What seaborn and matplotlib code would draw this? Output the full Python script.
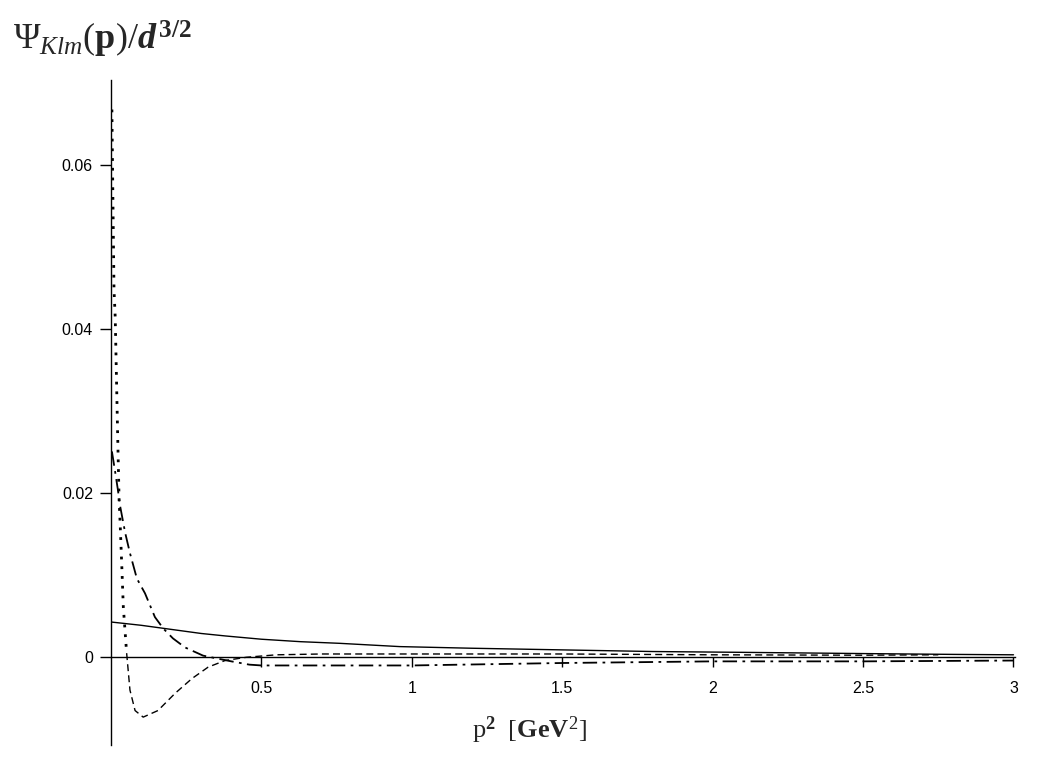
import numpy as np
import pandas as pd
import matplotlib
matplotlib.use('Agg')
import matplotlib.pyplot as plt
import seaborn as sns

# valores (p^2 en GeV^2, Psi/d^(3/2))
p2_solid = [0.0, 0.1, 0.2, 0.3, 0.38, 0.5, 0.63, 0.76, 0.96, 1.2, 1.5, 1.8, 2.1, 2.5, 2.8, 3.0]
psi_solid = [0.0043, 0.0039, 0.0034, 0.0029, 0.0026, 0.0022, 0.0019, 0.0017, 0.0013,
             0.0011, 0.0009, 0.0007, 0.0006, 0.00045, 0.00035, 0.0003]

p2_dashdot = [0.003, 0.013, 0.023, 0.030, 0.047, 0.063, 0.086, 0.113, 0.146, 0.174, 0.206,
              0.246, 0.306, 0.346, 0.40, 0.46, 0.5, 1.0, 1.5, 2.0, 2.5, 3.0]
psi_dashdot = [0.0251, 0.0228, 0.0204, 0.0185, 0.0152, 0.0127, 0.0096, 0.0078, 0.0049, 0.0035,
               0.0023, 0.0012, 0.0002, -0.0001, -0.0005, -0.0009, -0.0010, -0.0010, -0.0007,
               -0.0005, -0.0005, -0.0004]

p2_dot = [0.003, 0.006, 0.010, 0.014, 0.022, 0.027, 0.030, 0.036, 0.041, 0.052, 0.063, 0.080,
          0.107, 0.156, 0.213, 0.269, 0.323, 0.379, 0.45, 0.55, 0.7, 1.0, 1.5, 2.0, 2.5, 2.75]
psi_dot = [0.0668, 0.0570, 0.0448, 0.0415, 0.0273, 0.0191, 0.0167, 0.0110, 0.0061, 0.0005,
           -0.0040, -0.0065, -0.0073, -0.0065, -0.0044, -0.0026, -0.0012, -0.0004, 0.0000,
           0.0003, 0.0004, 0.0004, 0.0004, 0.0003, 0.00025, 0.0003]
n_punteado = 10  # primeros puntos con trazo punteado, el resto discontinuo

x_ticks = [0.5, 1, 1.5, 2, 2.5, 3]
x_ticklabels = ['0.5', '1', '1.5', '2', '2.5', '3']
y_ticks = [0, 0.02, 0.04, 0.06]
y_ticklabels = ['0', '0.02', '0.04', '0.06']

sns.set_style('white')
plt.rcParams['font.family'] = ['Liberation Sans', 'DejaVu Sans']
plt.rcParams['mathtext.fontset'] = 'custom'
plt.rcParams['mathtext.rm'] = 'Liberation Serif'
plt.rcParams['mathtext.it'] = 'Liberation Serif:italic'
plt.rcParams['mathtext.bf'] = 'Liberation Serif:bold'
plt.rcParams['mathtext.bfit'] = 'Liberation Serif:italic:bold'

fig = plt.figure(figsize=(10.42, 7.64), dpi=100)
ax = fig.add_axes([111 / 1042, 19 / 764, 904 / 1042, 665 / 764])

df_solid = pd.DataFrame({'x': p2_solid, 'y': psi_solid})
df_dd = pd.DataFrame({'x': p2_dashdot, 'y': psi_dashdot})
df_dot = pd.DataFrame({'x': p2_dot, 'y': psi_dot})

sns.lineplot(data=df_solid, x='x', y='y', ax=ax, color='black', lw=1.0,
             estimator=None, sort=False)
sns.lineplot(data=df_dd, x='x', y='y', ax=ax, color='black', lw=1.3,
             estimator=None, sort=False, linestyle=(0, (8, 3, 1.5, 3)))
sns.lineplot(data=df_dot.iloc[:n_punteado], x='x', y='y', ax=ax, color='black', lw=2.0,
             estimator=None, sort=False, linestyle=(0, (1, 2.5)))
sns.lineplot(data=df_dot.iloc[n_punteado - 1:], x='x', y='y', ax=ax, color='black', lw=1.0,
             estimator=None, sort=False, linestyle=(0, (5, 3)))

ax.set_xlim(0, 3.005)
ax.set_ylim(-0.0107, 0.0704)
ax.spines['top'].set_visible(False)
ax.spines['right'].set_visible(False)
ax.spines['bottom'].set_position(('data', 0))
for s in ['left', 'bottom']:
    ax.spines[s].set_linewidth(1.0)
    ax.spines[s].set_color('black')

ax.set_xticks(x_ticks)
ax.set_xticklabels(x_ticklabels)
ax.set_yticks(y_ticks)
ax.set_yticklabels(y_ticklabels)
ax.tick_params(axis='x', direction='out', length=7.5, width=1.0, pad=9.5,
               labelsize=11.5, colors='black', bottom=True)
ax.tick_params(axis='y', direction='out', length=8, width=1.0, pad=5,
               labelsize=11.5, colors='black', left=True)
ax.set_xlabel('')
ax.set_ylabel('')

fig.text(13 / 1042, 1 - 50 / 764, r'$\Psi_{Klm}(\mathbf{p})/\mathbfit{d}^{\,\mathbf{3/2}}$',
         fontsize=26, ha='left', va='baseline')
fig.text(529 / 1042, 1 - 738 / 764, r'$\mathrm{p}^{\mathbf{2}}\ \ [\mathbf{GeV}^{2}]$',
         fontsize=19, ha='center', va='baseline')

fig.savefig('out.png', dpi=100)
